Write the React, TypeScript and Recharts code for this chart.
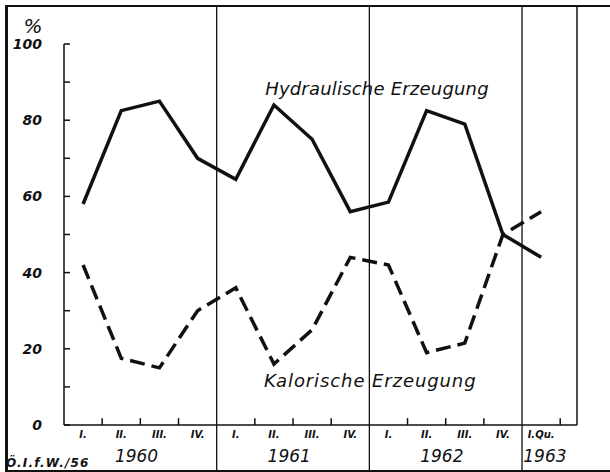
import React from 'react';
import { LineChart, Line, XAxis, YAxis, ReferenceLine, ReferenceDot } from 'recharts';

// quarters 1960 .. 1963 (I. Qu.)
const quarters = ['I.', 'II.', 'III.', 'IV.', 'I.', 'II.', 'III.', 'IV.', 'I.', 'II.', 'III.', 'IV.', 'I.Qu.'];
const years = ['1960', '1961', '1962', '1963'];
const hydraulisch = [58, 82.5, 85, 70, 64.5, 84, 75, 56, 58.5, 82.5, 79, 50, 44];
const kalorisch = [42, 17.5, 15, 30, 36, 16, 25, 44, 42, 19, 21.5, 50, 56];

const yTicks = [0, 10, 20, 30, 40, 50, 60, 70, 80, 90, 100];
// x axis counted in quarters, 0 = start of 1960
const quarterTicks = [0.5, 1.5, 2.5, 3.5, 4.5, 5.5, 6.5, 7.5, 8.5, 9.5, 10.5, 11.5, 12.5];
const quarterBounds = [1, 2, 3, 5, 6, 7, 9, 10, 11, 13];
const yearBounds = [4, 8, 12];
const yearCenters = [1.9, 5.9, 9.9, 12.6];
const X_MAX = 13.44;
const FRAME_TOP = 110.2;
const FRAME_BOTTOM = -12.1;

const data = quarters.map((q, i) => ({
  pos: quarterTicks[i],
  quarter: q,
  hyd: hydraulisch[i],
  kal: kalorisch[i],
}));

const FONT = "'DejaVu Sans', sans-serif";
const INK = '#111';

const notes = [
  { x: 5.27, y: 86.6, text: 'Hydraulische Erzeugung', size: 18, anchor: 'start', spacing: 0.2, weight: 'normal' },
  { x: 5.24, y: 10, text: 'Kalorische Erzeugung', size: 18, anchor: 'start', spacing: 0.9, weight: 'normal' },
  { x: -0.81, y: 102.8, text: '%', size: 20, anchor: 'middle', spacing: 0, weight: 'normal' },
  { x: -1.52, y: -11, text: 'Ö.I.f.W./56', size: 12, anchor: 'start', spacing: 1.2, weight: 'bold' },
];

const YTick = (props: any) => {
  const { x, y, payload } = props;
  if (payload.value % 20 !== 0) return <g />;
  return (
    <text x={x - 28} y={y} dy={5} textAnchor="end" fontFamily={FONT} fontStyle="italic"
      fontWeight="bold" fontSize={14} fill={INK}>
      {payload.value}
    </text>
  );
};

export default function App() {
  return (
    <div style={{ position: 'relative', width: 610, height: 472, background: '#fff' }}>
      <style>{'body{margin:0}'}</style>
      <div style={{
        position: 'absolute', left: 5, top: 5, width: 605, height: 467, boxSizing: 'border-box',
        borderTop: `2px solid ${INK}`, borderLeft: `3px solid ${INK}`, borderBottom: `2px solid ${INK}`,
      }} />
      <div style={{ position: 'absolute', left: 0, top: 0 }}>
        <LineChart width={610} height={472} data={data} margin={{ top: 44, right: 33, bottom: 2, left: 0 }}>
          <XAxis
            xAxisId="q"
            dataKey="pos"
            type="number"
            domain={[0, X_MAX]}
            allowDataOverflow
            ticks={quarterTicks}
            interval={0}
            height={18}
            tickLine={false}
            tickSize={0}
            tickMargin={6}
            axisLine={{ stroke: INK, strokeWidth: 1.5 }}
            tickFormatter={(v: number) => quarters[quarterTicks.indexOf(v)]}
            tick={{ fill: INK, fontSize: 10, fontFamily: FONT, fontStyle: 'italic', fontWeight: 'bold' }}
          />
          <XAxis
            xAxisId="yr"
            dataKey="pos"
            type="number"
            domain={[0, X_MAX]}
            allowDataOverflow
            ticks={yearCenters}
            interval={0}
            height={27}
            tickLine={false}
            axisLine={false}
            tickSize={0}
            tickMargin={7}
            tickFormatter={(v: number) => years[yearCenters.indexOf(v)]}
            tick={{ fill: INK, fontSize: 17, fontFamily: FONT, fontStyle: 'italic' }}
          />
          <YAxis
            domain={[0, 100]}
            ticks={yTicks}
            interval={0}
            width={64}
            tickSize={-6}
            tickMargin={0}
            axisLine={{ stroke: INK, strokeWidth: 1.5 }}
            tickLine={{ stroke: INK, strokeWidth: 1.5 }}
            tick={<YTick />}
          />

          {quarterBounds.map((b) => (
            <ReferenceLine key={'t' + b} xAxisId="q" ifOverflow="visible"
              segment={[{ x: b, y: 0 }, { x: b, y: 1.8 }]} stroke={INK} strokeWidth={1.5} />
          ))}
          {yearBounds.map((b) => (
            <ReferenceLine key={'y' + b} xAxisId="q" ifOverflow="visible"
              segment={[{ x: b, y: FRAME_BOTTOM }, { x: b, y: FRAME_TOP }]} stroke={INK} strokeWidth={1.3} />
          ))}
          <ReferenceLine xAxisId="q" ifOverflow="visible"
            segment={[{ x: X_MAX, y: 0 }, { x: X_MAX, y: FRAME_TOP }]} stroke={INK} strokeWidth={1.5} />

          <Line xAxisId="q" dataKey="hyd" stroke={INK} strokeWidth={3.5} dot={false} isAnimationActive={false} />
          <Line xAxisId="q" dataKey="kal" stroke={INK} strokeWidth={3.5} strokeDasharray="15 7" dot={false}
            isAnimationActive={false} />

          {notes.map((n) => (
            <ReferenceDot key={n.text} xAxisId="q" x={n.x} y={n.y} r={0} ifOverflow="visible"
              fill="none" stroke="none"
              label={{
                content: (p: any) => (
                  <text x={p.viewBox.x} y={p.viewBox.y} textAnchor={n.anchor} fontFamily={FONT}
                    fontStyle="italic" fontWeight={n.weight} fontSize={n.size} letterSpacing={n.spacing}
                    fill={INK}>
                    {n.text}
                  </text>
                ),
              }} />
          ))}
        </LineChart>
      </div>
    </div>
  );
}
